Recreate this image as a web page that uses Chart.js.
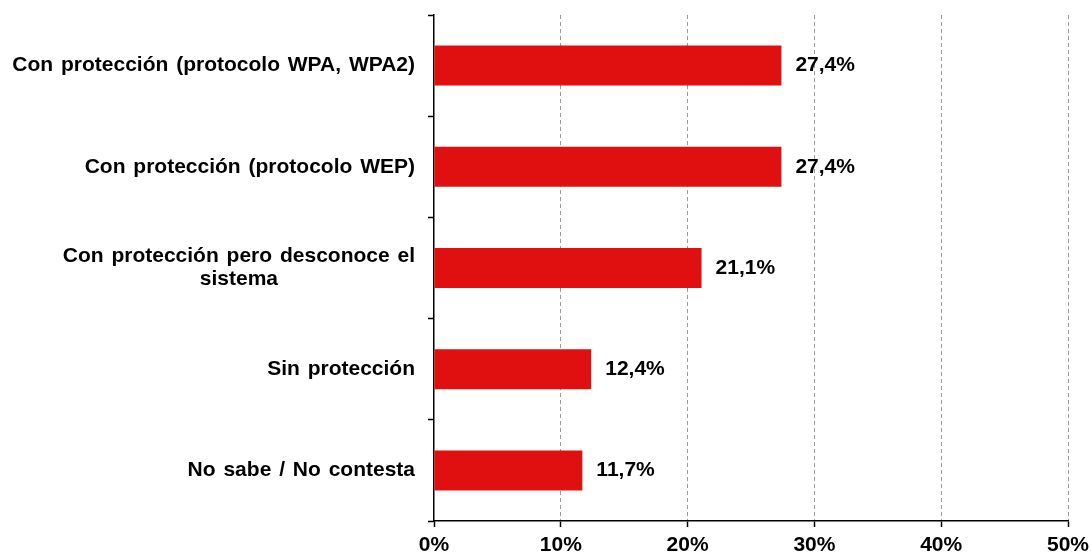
<!DOCTYPE html>
<html lang="es">
<head>
    <meta charset="UTF-8">
    <title>Protección de la red inalámbrica</title>
    <script src="https://cdn.jsdelivr.net/npm/chart.js"></script>
    <style>
        html, body { margin: 0; padding: 0; background: #ffffff; }
        .chart-box { width: 1091px; height: 556px; position: relative; }
    </style>
</head>
<body>
    <div class="chart-box">
        <canvas id="barChart"></canvas>
    </div>

    <script>
        // Data
        const categories = [
            'Con protección (protocolo WPA, WPA2)',
            'Con protección (protocolo WEP)',
            ['Con protección pero desconoce el', 'sistema'],
            'Sin protección',
            'No sabe / No contesta'
        ];
        const percentages = [27.4, 27.4, 21.1, 12.4, 11.7];
        const xTicks = [0, 10, 20, 30, 40, 50];

        const barRed = '#E01010';
        const fontFamily = 'Arial, "Liberation Sans", sans-serif';

        // category labels: lines centered on each other, block right-aligned
        const categoryLabels = {
            id: 'categoryLabels',
            afterDraw(chart) {
                const ctx = chart.ctx;
                const yScale = chart.scales.y;
                const right = chart.chartArea.left - 19;
                ctx.save();
                ctx.font = 'bold 21px ' + fontFamily;
                ctx.wordSpacing = '2px';
                ctx.fillStyle = '#000000';
                ctx.textAlign = 'center';
                ctx.textBaseline = 'middle';
                categories.forEach((label, i) => {
                    const lines = Array.isArray(label) ? label : [label];
                    const widest = Math.max(...lines.map(l => ctx.measureText(l).width));
                    const cx = right - widest / 2;
                    const yc = yScale.getPixelForValue(i);
                    const lh = 23;
                    lines.forEach((l, k) => {
                        ctx.fillText(l, cx, yc + (k - (lines.length - 1) / 2) * lh);
                    });
                });
                ctx.restore();
            }
        };

        // value labels to the right of each bar
        const valueLabels = {
            id: 'valueLabels',
            afterDatasetsDraw(chart) {
                const ctx = chart.ctx;
                const meta = chart.getDatasetMeta(0);
                ctx.save();
                ctx.font = 'bold 21px ' + fontFamily;
                ctx.fillStyle = '#000000';
                ctx.textAlign = 'left';
                ctx.textBaseline = 'middle';
                meta.data.forEach((bar, i) => {
                    ctx.fillText(percentages[i].toFixed(1).replace('.', ',') + '%', bar.x + 14, bar.y);
                });
                ctx.restore();
            }
        };

        new Chart(document.getElementById('barChart'), {
            type: 'bar',
            data: {
                labels: categories,
                datasets: [{
                    data: percentages,
                    backgroundColor: barRed,
                    barPercentage: 0.395,
                    categoryPercentage: 1
                }]
            },
            options: {
                indexAxis: 'y',
                responsive: true,
                maintainAspectRatio: false,
                animation: false,
                layout: { padding: { top: 15, right: 23, bottom: 0, left: 0 } },
                plugins: {
                    legend: { display: false },
                    tooltip: { enabled: false }
                },
                scales: {
                    x: {
                        min: xTicks[0],
                        max: xTicks[xTicks.length - 1],
                        afterBuildTicks: s => { s.ticks = xTicks.map(v => ({ value: v })); },
                        afterFit: s => { s.height = 35; s.paddingRight = 0; s.paddingLeft = 0; },
                        ticks: {
                            callback: v => v + '%',
                            color: '#000000',
                            font: { family: fontFamily, size: 21, weight: 'bold' },
                            padding: 6,
                            maxRotation: 0
                        },
                        grid: {
                            color: c => c.index === 0 ? 'rgba(0,0,0,0)' : '#9a9a9a',
                            lineWidth: 1,
                            tickColor: '#000000',
                            tickLength: 6,
                            tickWidth: 1.5
                        },
                        border: { color: '#000000', width: 1.5, dash: [4, 3] }
                    },
                    y: {
                        afterFit: s => { s.width = 434; },
                        ticks: { display: false },
                        grid: {
                            drawOnChartArea: false,
                            tickColor: '#000000',
                            tickLength: 6,
                            tickWidth: 1.5
                        },
                        border: { color: '#000000', width: 1.5 }
                    }
                }
            },
            plugins: [categoryLabels, valueLabels]
        });
    </script>
</body>
</html>
